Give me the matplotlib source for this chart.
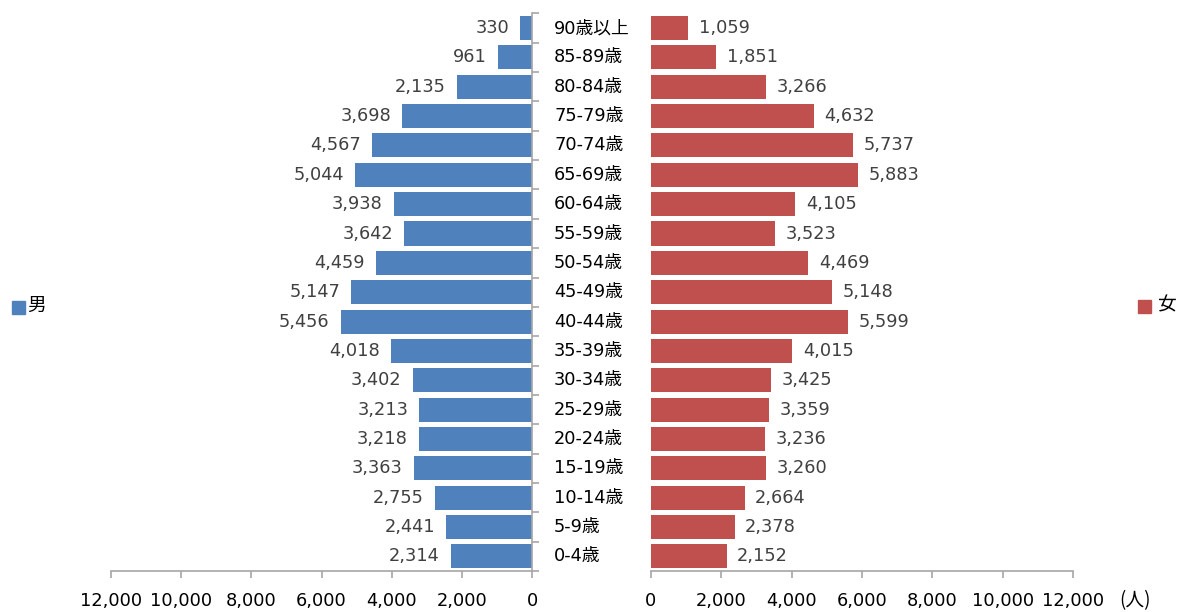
import matplotlib
matplotlib.use("Agg")
import matplotlib.pyplot as plt
import numpy as np

plt.rcParams['font.family'] = ['DejaVu Sans', 'Noto Sans CJK JP']

ages = ["90歳以上", "85-89歳", "80-84歳", "75-79歳", "70-74歳", "65-69歳", "60-64歳",
        "55-59歳", "50-54歳", "45-49歳", "40-44歳", "35-39歳", "30-34歳", "25-29歳",
        "20-24歳", "15-19歳", "10-14歳", "5-9歳", "0-4歳"]
male = [330, 961, 2135, 3698, 4567, 5044, 3938, 3642, 4459, 5147, 5456, 4018, 3402,
        3213, 3218, 3363, 2755, 2441, 2314]
female = [1059, 1851, 3266, 4632, 5737, 5883, 4105, 3523, 4469, 5148, 5599, 4015, 3425,
          3359, 3236, 3260, 2664, 2378, 2152]
xticks = [0, 2000, 4000, 6000, 8000, 10000, 12000]

blue = "#4F81BD"
red = "#C0504D"
grey = "#A6A6A6"
tcol = "#404040"
W, H = 1185, 612
fig = plt.figure(figsize=(W / 100, H / 100), dpi=100)

bottom = 1 - 571 / H
top = 1 - 13.4 / H
axL = fig.add_axes([111 / W, bottom, (532 - 111) / W, top - bottom])
axR = fig.add_axes([651 / W, bottom, (1073 - 651) / W, top - bottom])

n = len(ages)
y = np.arange(n)
fs = 12.8

for ax in (axL, axR):
    ax.set_ylim(n - 0.5, -0.5)
    ax.set_xlim(0, 12000)
    ax.set_xticks(xticks)
    ax.set_xticklabels([f"{v:,}" for v in xticks], fontsize=fs, color="black")
    ax.tick_params(axis="x", length=5, color=grey, width=1.2, pad=10)
    for s in ("top", "right", "left"):
        ax.spines[s].set_visible(False)
    ax.spines["bottom"].set_color(grey)
    ax.spines["bottom"].set_linewidth(1.2)

axL.invert_xaxis()
axL.barh(y, male, height=0.82, color=blue)
axR.barh(y, female, height=0.82, color=red)

# left axis vertical spine at 0 with ticks between categories
axL.spines["right"].set_visible(True)
axL.spines["right"].set_color(grey)
axL.spines["right"].set_linewidth(1.2)
axL.yaxis.tick_right()
axL.set_yticks(np.arange(n + 1) - 0.5)
axL.set_yticklabels([])
axL.tick_params(axis="y", length=5, color=grey, width=1.2, direction="out")
axR.set_yticks([])

for i in range(n):
    axL.text(male[i] + 320, i, f"{male[i]:,}", ha="right", va="center", fontsize=fs, color=tcol)
    axR.text(female[i] + 300, i, f"{female[i]:,}", ha="left", va="center", fontsize=fs, color=tcol)
    fig.text(554 / W, 1 - (13.4 + (i + 0.5) * (571 - 13.4) / n) / H, ages[i],
             ha="left", va="center", fontsize=fs, color="black",
             family=["DejaVu Sans", "Noto Sans CJK JP"])

# legends
fig.patches.append(plt.Rectangle((12 / W, 1 - 314 / H), 13 / W, 13 / H, color=blue,
                                 transform=fig.transFigure, figure=fig))
fig.text(27 / W, 1 - 305 / H, "男", ha="left", va="center", fontsize=13.5,
         family=["Noto Sans CJK JP"], color="black")
fig.patches.append(plt.Rectangle((1138 / W, 1 - 313 / H), 13 / W, 13 / H, color=red,
                                 transform=fig.transFigure, figure=fig))
fig.text(1157 / W, 1 - 305 / H, "女", ha="left", va="center", fontsize=13.5,
         family=["Noto Sans CJK JP"], color="black")
fig.text(1119 / W, 1 - 601 / H, "(人)", ha="left", va="center", fontsize=13.5,
         family=["Noto Sans CJK JP"], color="black")

fig.savefig("out.png", dpi=100)
